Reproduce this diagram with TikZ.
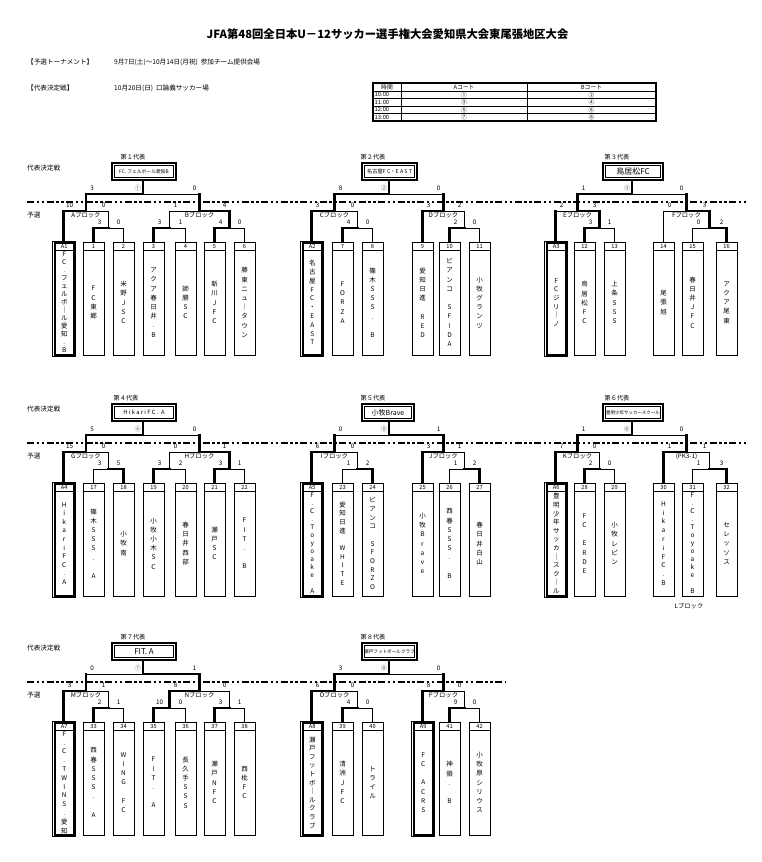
\documentclass[tikz,border=0pt]{standalone}
\usepackage{fontspec}
\setmainfont{Noto Sans CJK JP}
\usetikzlibrary{calc}

\newcommand\vtx[2]{\vbox{\baselineskip=#1pt\lineskiplimit=-30pt\lineskip=0pt\vtxloop#2\relax}}
\def\vtxloop#1{\ifx\relax#1\else\vtxone{#1}\expandafter\vtxloop\fi}
\def\vtxone#1{\hbox to 0pt{\hss\ifx*#1\else#1\fi\hss}}

\tikzset{
 thk/.style={line width=2.3pt, line cap=rect},
 thn/.style={line width=0.75pt},
 tbox/.style={draw, line width=0.8pt, minimum width=21pt, minimum height=113pt, inner sep=0pt},
 hdr/.style={font=\fontsize{5.7}{6}\selectfont, inner sep=0pt},
 tname/.style={font=\fontsize{6.5}{7}\selectfont, inner sep=0pt},
 score/.style={font=\fontsize{6.3}{7}\selectfont, inner sep=0pt},
 rnd/.style={font=\fontsize{6.3}{7}\selectfont, inner sep=0pt, text=black!65},
 blkl/.style={font=\fontsize{6.3}{7}\selectfont, inner sep=0pt},
 fbx/.style={draw, line width=2.3pt, minimum height=17pt, inner sep=0pt},
 lbl/.style={font=\fontsize{6.2}{7}\selectfont, inner sep=0pt},
 side/.style={font=\fontsize{6.6}{7}\selectfont, inner sep=0pt, anchor=west},
 dashln/.style={line width=2pt, dash pattern=on 7pt off 2.5pt on 2.5pt off 2.5pt on 2.5pt off 2.5pt},
 cell/.style={font=\fontsize{5.8}{6}\selectfont, inner sep=0pt},
}

\newcommand\team[5][9.2]{%
  \node[tbox] (#2) at (#3+10.5,298.5) {};
  \draw[line width=0.8pt] (#3,250) -- (#3+21,250);
  \node[hdr] (#2h) at (#3+10.5,246.3) {#4};
  \node[tname] (#2n) at (#3+10.5,302.5) {\vtx{#1}{#5}};
}
\newcommand\seed[5][8.6]{%
  \node[tbox, minimum width=23pt, minimum height=115pt, line width=0.6pt] (#2) at (#3+10.5,298.5) {};
  \draw[line width=2pt] (#3+1.5,243) rectangle (#3+21,354.5);
  \draw[line width=0.8pt] (#3+1.5,250) -- (#3+21,250);
  \node[hdr] (#2h) at (#3+11.25,246.5) {#4};
  \node[tname] (#2n) at (#3+11.25,302.5) {\vtx{#1}{#5}};
}
\newcommand\mt[8]{%
  \coordinate (#4l) at (#1 |- 0,#3);
  \coordinate (#4r) at (#2 |- 0,#3);
  \coordinate (#4) at ($(#4l)!0.5!(#4r)$);
  \draw[#5] (#1) -- (#4l);
  \draw[#6] (#4l) -- (#4);
  \draw[#7] (#4) -- (#4r);
  \draw[#8] (#4r) -- (#2);
}
\newcommand\scores[3]{%
  \node[score, xshift=6pt, yshift=6pt] (#1sl) at (#1l) {#2};
  \node[score, xshift=-5pt, yshift=6pt] (#1sr) at (#1r) {#3};
}
\newcommand\blk[2]{\node[blkl, yshift=-4.5pt] (#1t) at (#1) {#2};}
\newcommand\rndno[2]{\node[rnd, xshift=-5pt, yshift=6pt] (#1c) at (#1) {#2};}
\newcommand\finalbox[6]{%
  \node[fbx, minimum width={#3-#2}] (#1) at ({(#2+#3)/2},171.5) {#6};
  \draw[line width=0.6pt] (#2+2.6,165.6) rectangle (#3-2.6,177.4);
  \node[lbl] (#1lab) at (#4,157.5) {#5};
}
\newcommand\sides[1]{%
  \node[side] (#1k) at (27,168) {代表決定戦};
  \node[side] (#1y) at (27,215) {予選};
}

\begin{document}
\begin{tikzpicture}[x=1pt,y=-1pt]
\fill[white] (0,0) rectangle (762,862);
\useasboundingbox (0,0) rectangle (762,862);

% ---------- header ----------
\node[font=\bfseries\fontsize{11.3}{13}\selectfont, inner sep=0pt] (title) at (387.5,34) {JFA第48回全日本U－12サッカー選手権大会愛知県大会東尾張地区大会};
\node[side] (h1) at (27,62) {【予選トーナメント】};
\node[side] (h1b) at (114,62) {9月7日(土)～10月14日(月祝)\ \ 参加チーム提供会場};
\node[side] (h2) at (27,88) {【代表決定戦】};
\node[side] (h2b) at (114,88) {10月20日(日)\ \ 口論義サッカー場};

% schedule table
\draw[line width=1.2pt] (373,83) rectangle (656,121);
\draw[line width=1pt] (373,91) -- (656,91);
\draw[line width=0.7pt] (373,98.5) -- (656,98.5) (373,106) -- (656,106) (373,113.5) -- (656,113.5);
\draw[line width=0.8pt] (401,83) -- (401,121) (527,83) -- (527,121);
\node[cell] (th0) at (387,87) {時間};
\node[cell] (th1) at (464,87) {Aコート};
\node[cell] (th2) at (591.5,87) {Bコート};
\node[cell, anchor=west] (r1) at (374.5,94.8) {10:00};
\node[cell, anchor=west] (r2) at (374.5,102.3) {11:00};
\node[cell, anchor=west] (r3) at (374.5,109.8) {12:00};
\node[cell, anchor=west] (r4) at (374.5,117.3) {13:00};
\node[cell] (c1) at (464,94.8) {①};
\node[cell] (c2) at (591.5,94.8) {②};
\node[cell] (c3) at (464,102.3) {③};
\node[cell] (c4) at (591.5,102.3) {④};
\node[cell] (c5) at (464,109.8) {⑤};
\node[cell] (c6) at (591.5,109.8) {⑥};
\node[cell] (c7) at (464,117.3) {⑦};
\node[cell] (c8) at (591.5,117.3) {⑧};

% ================= ROW 1 =================
\begin{scope}
\sides{rowa}
\draw[dashln] (27,202) -- (748,202);
% bracket 1
\seed[8]{b1a}{53}{A1}{FC.フェルボ｜ル愛知.B}
\team{b1t1}{83}{1}{FC東郷}
\team{b1t2}{113}{2}{米野JSC}
\team{b1t3}{143}{3}{アクア春日井.B}
\team{b1t4}{175}{4}{師勝SC}
\team{b1t5}{204}{5}{新川JFC}
\team{b1t6}{234}{6}{藤東ニュ｜タウン}
\mt{b1t1.north}{b1t2.north}{228}{b1s12}{thk}{thk}{thn}{thn}\scores{b1s12}{3}{0}
\mt{b1t3.north}{b1t4.north}{228}{b1s34}{thk}{thk}{thn}{thn}\scores{b1s34}{3}{1}
\mt{b1t5.north}{b1t6.north}{228}{b1s56}{thk}{thk}{thn}{thn}\scores{b1s56}{4}{0}
\mt{b1a.north}{b1s12}{211}{b1bl}{thk}{thk}{thn}{thn}\scores{b1bl}{10}{0}\blk{b1bl}{Aブロック}
\mt{b1s34}{b1s56}{211}{b1br}{thn}{thn}{thk}{thk}\scores{b1br}{1}{4}\blk{b1br}{Bブロック}
\mt{b1bl}{b1br}{194}{b1f}{thk}{thk}{thn}{thk}\scores{b1f}{3}{0}\rndno{b1f}{①}
\finalbox{b1w}{112}{176}{133}{第１代表}{\fontsize{4.8}{5}\selectfont FC.\ フェルボール愛知B}
\draw[thk] (b1f) -- (b1f |- b1w.south);
% bracket 2
\seed[8.8]{b2a}{301}{A2}{名古屋FC・EAST}
\team{b2t1}{332}{7}{FORZA}
\team{b2t2}{362}{8}{篠木SSS.*B}
\team{b2t3}{412}{9}{愛知日進*RED}
\team{b2t4}{439}{10}{ビアンコ*SFIDA}
\team{b2t5}{469}{11}{小牧グランツ}
\mt{b2t1.north}{b2t2.north}{228}{b2s12}{thk}{thk}{thn}{thn}\scores{b2s12}{4}{0}
\mt{b2t4.north}{b2t5.north}{228}{b2s45}{thk}{thk}{thn}{thn}\scores{b2s45}{2}{0}
\mt{b2a.north}{b2s12}{211}{b2bl}{thk}{thk}{thn}{thn}\scores{b2bl}{3}{0}\blk{b2bl}{Cブロック}
\mt{b2t3.north}{b2s45}{211}{b2br}{thk}{thk}{thn}{thn}\scores{b2br}{3}{2}\blk{b2br}{Dブロック}
\mt{b2bl}{b2br}{194}{b2f}{thk}{thk}{thn}{thk}\scores{b2f}{8}{0}\rndno{b2f}{②}
\finalbox{b2w}{362}{417}{373}{第２代表}{\fontsize{5.3}{6}\selectfont 名古屋F C・E A S T}
\draw[thk] (b2f) -- (b2f |- b2w.south);
% bracket 3
\seed[8.6]{b3a}{545}{A3}{FCジリ｜ノ}
\team{b3t1}{574}{12}{鳥居松FC}
\team{b3t2}{604}{13}{上条SSS}
\team{b3t3}{653}{14}{尾張旭}
\team{b3t4}{682}{15}{春日井JFC}
\team{b3t5}{716}{16}{アクア尾東}
\mt{b3t1.north}{b3t2.north}{228}{b3s12}{thk}{thk}{thn}{thn}\scores{b3s12}{3}{1}
\mt{b3t4.north}{b3t5.north}{228}{b3s45}{thn}{thn}{thk}{thk}\scores{b3s45}{0}{2}
\mt{b3a.north}{b3s12}{211}{b3bl}{thk}{thn}{thk}{thk}\scores{b3bl}{2}{3}\blk{b3bl}{Eブロック}
\mt{b3t3.north}{b3s45}{211}{b3br}{thn}{thn}{thk}{thk}\scores{b3br}{0}{3}\blk{b3br}{Fブロック}
\mt{b3bl}{b3br}{194}{b3f}{thk}{thk}{thn}{thk}\scores{b3f}{1}{0}\rndno{b3f}{③}
\finalbox{b3w}{603}{663}{617}{第３代表}{\fontsize{8}{9}\selectfont 鳥居松FC}
\draw[thk] (b3f) -- (b3f |- b3w.south);
\end{scope}

% ================= ROW 2 =================
\begin{scope}[yshift=-241pt]
\sides{rowb}
\draw[dashln] (27,202) -- (748,202);
% bracket 4
\seed[8.6]{b4a}{53}{A4}{HikariFC.A}
\team{b4t1}{83}{17}{篠木SSS.*A}
\team{b4t2}{113}{18}{小牧南}
\team{b4t3}{143}{19}{小牧小木SC}
\team{b4t4}{175}{20}{春日井西部}
\team{b4t5}{204}{21}{瀬戸SC}
\team{b4t6}{234}{22}{FIT.*B}
\mt{b4t1.north}{b4t2.north}{228}{b4s12}{thn}{thn}{thk}{thk}\scores{b4s12}{3}{5}
\mt{b4t3.north}{b4t4.north}{228}{b4s34}{thk}{thk}{thn}{thn}\scores{b4s34}{3}{2}
\mt{b4t5.north}{b4t6.north}{228}{b4s56}{thk}{thk}{thn}{thn}\scores{b4s56}{3}{1}
\mt{b4a.north}{b4s12}{211}{b4bl}{thk}{thk}{thn}{thn}\scores{b4bl}{15}{0}\blk{b4bl}{Gブロック}
\mt{b4s34}{b4s56}{211}{b4br}{thn}{thn}{thk}{thk}\scores{b4br}{0}{1}\blk{b4br}{Hブロック}
\mt{b4bl}{b4br}{194}{b4f}{thk}{thk}{thn}{thk}\scores{b4f}{5}{0}\rndno{b4f}{④}
\finalbox{b4w}{112}{176}{126}{第４代表}{\fontsize{5.8}{6}\selectfont H i k a r i F C .~~A}
\draw[thk] (b4f) -- (b4f |- b4w.south);
% bracket 5
\seed[8]{b5a}{301}{A5}{F.C.Toyoake*A}
\team[8.7]{b5t1}{332}{23}{愛知日進*WHITE}
\team[8.7]{b5t2}{362}{24}{ビアンコ*SFORZO}
\team{b5t3}{412}{25}{小牧Brave}
\team{b5t4}{439}{26}{西春SSS.*B}
\team{b5t5}{469}{27}{春日井白山}
\mt{b5t1.north}{b5t2.north}{228}{b5s12}{thn}{thn}{thk}{thk}\scores{b5s12}{1}{2}
\mt{b5t4.north}{b5t5.north}{228}{b5s45}{thn}{thn}{thk}{thk}\scores{b5s45}{1}{2}
\mt{b5a.north}{b5s12}{211}{b5bl}{thk}{thk}{thn}{thn}\scores{b5bl}{6}{0}\blk{b5bl}{Iブロック}
\mt{b5t3.north}{b5s45}{211}{b5br}{thk}{thk}{thn}{thn}\scores{b5br}{3}{1}\blk{b5br}{Jブロック}
\mt{b5bl}{b5br}{194}{b5f}{thk}{thn}{thk}{thk}\scores{b5f}{0}{1}\rndno{b5f}{⑤}
\finalbox{b5w}{362}{414}{373}{第５代表}{\fontsize{7}{8}\selectfont 小牧Brave}
\draw[thk] (b5f) -- (b5f |- b5w.south);
% bracket 6
\seed[8.6]{b6a}{545}{A6}{豊明少年サッカ｜スク｜ル}
\team{b6t1}{574}{28}{FC*ERDE}
\team{b6t2}{604}{29}{小牧レピン}
\team[8.8]{b6t3}{653}{30}{HikariFC.B}
\team[8]{b6t4}{682}{31}{F.C.Toyoake*B}
\team{b6t5}{716}{32}{セレッソス}
\mt{b6t1.north}{b6t2.north}{228}{b6s12}{thk}{thk}{thn}{thn}\scores{b6s12}{2}{0}
\mt{b6t4.north}{b6t5.north}{228}{b6s45}{thn}{thn}{thk}{thk}\scores{b6s45}{1}{3}
\mt{b6a.north}{b6s12}{211}{b6bl}{thk}{thk}{thn}{thn}\scores{b6bl}{7}{0}\blk{b6bl}{Kブロック}
\mt{b6t3.north}{b6s45}{211}{b6br}{thk}{thk}{thn}{thn}\scores{b6br}{1}{1}\blk{b6br}{(PK3-1)}
\mt{b6bl}{b6br}{194}{b6f}{thk}{thk}{thn}{thk}\scores{b6f}{1}{0}\rndno{b6f}{⑥}
\finalbox{b6w}{603}{663}{617}{第６代表}{\fontsize{4.5}{5}\selectfont 豊明少年サッカースクール}
\draw[thk] (b6f) -- (b6f |- b6w.south);
\node[blkl] (b6lb) at (689,365) {Lブロック};
\end{scope}

% ================= ROW 3 =================
\begin{scope}[yshift=-480pt]
\sides{rowc}
\draw[dashln] (27,202) -- (505,202);
% bracket 7
\seed[8.8]{b7a}{53}{A7}{F.C.TWINS.愛知}
\team{b7t1}{83}{33}{西春SSS.*A}
\team{b7t2}{113}{34}{WING*FC}
\team{b7t3}{143}{35}{FIT.*A}
\team{b7t4}{175}{36}{長久手SSS}
\team{b7t5}{204}{37}{瀬戸NFC}
\team{b7t6}{234}{38}{西枇FC}
\mt{b7t1.north}{b7t2.north}{228}{b7s12}{thk}{thk}{thn}{thn}\scores{b7s12}{2}{1}
\mt{b7t3.north}{b7t4.north}{228}{b7s34}{thk}{thk}{thn}{thn}\scores{b7s34}{10}{0}
\mt{b7t5.north}{b7t6.north}{228}{b7s56}{thk}{thk}{thn}{thn}\scores{b7s56}{3}{1}
\mt{b7a.north}{b7s12}{211}{b7bl}{thk}{thk}{thn}{thn}\scores{b7bl}{3}{1}\blk{b7bl}{Mブロック}
\mt{b7s34}{b7s56}{211}{b7br}{thk}{thk}{thn}{thn}\scores{b7br}{8}{0}\blk{b7br}{Nブロック}
\mt{b7bl}{b7br}{194}{b7f}{thk}{thn}{thk}{thk}\scores{b7f}{0}{1}\rndno{b7f}{⑦}
\finalbox{b7w}{112}{176}{133}{第７代表}{\fontsize{8}{9}\selectfont FIT.\ A}
\draw[thk] (b7f) -- (b7f |- b7w.south);
% bracket 8
\seed[8.6]{b8a}{301}{A8}{瀬戸フットボ｜ルクラブ}
\team{b8t1}{332}{39}{清洲JFC}
\team{b8t2}{362}{40}{トライル}
\seed[9.2]{b8t3}{412}{A9}{FC*ACRS}
\team{b8t4}{439}{41}{神領.*B}
\team{b8t5}{469}{42}{小牧原シリウス}
\mt{b8t1.north}{b8t2.north}{228}{b8s12}{thk}{thk}{thn}{thn}\scores{b8s12}{4}{0}
\mt{b8t4.north}{b8t5.north}{228}{b8s45}{thk}{thk}{thn}{thn}\scores{b8s45}{9}{0}
\mt{b8a.north}{b8s12}{211}{b8bl}{thk}{thk}{thn}{thn}\scores{b8bl}{6}{0}\blk{b8bl}{Oブロック}
\mt{b8t3.north}{b8s45}{211}{b8br}{thk}{thk}{thn}{thn}\scores{b8br}{8}{0}\blk{b8br}{Pブロック}
\mt{b8bl}{b8br}{194}{b8f}{thk}{thk}{thn}{thk}\scores{b8f}{3}{0}\rndno{b8f}{⑧}
\finalbox{b8w}{362}{417}{373}{第８代表}{\fontsize{4.6}{5}\selectfont 瀬戸フットボールクラブ}
\draw[thk] (b8f) -- (b8f |- b8w.south);
\end{scope}
\end{tikzpicture}
\end{document}
